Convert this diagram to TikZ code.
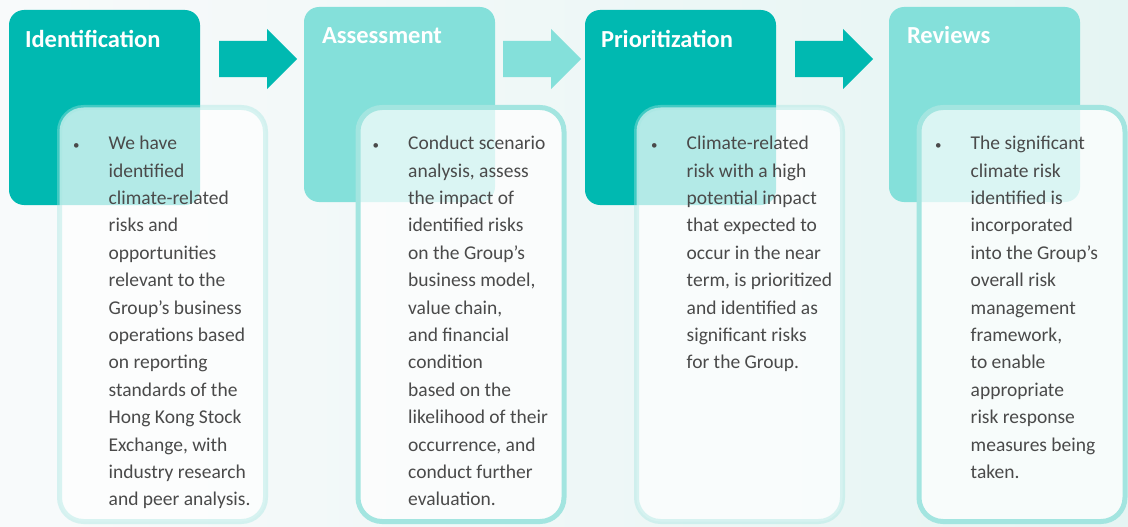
\documentclass[tikz,border=0pt]{standalone}
\usepackage{fontspec}
\setmainfont{Carlito}
\usetikzlibrary{shapes.arrows}

\definecolor{tealdark}{HTML}{00B9B1}
\definecolor{teallight}{HTML}{84E0DA}
\definecolor{tealedge}{HTML}{A3E5E0}
\definecolor{bodygray}{HTML}{4A4A4A}
\definecolor{bgleft}{HTML}{F8FAFB}
\definecolor{bgright}{HTML}{E5F5F3}

% hanging bullet in front of the first line
\newcommand{\itemdot}{\llap{{\fontsize{13}{13}\selectfont\textbullet}\hspace{29pt}}}

\begin{document}
\begin{tikzpicture}[
        x=1pt, y=-1pt,
        stepbox/.style={
            rectangle,
            rounded corners=15pt,
            minimum width=191pt,
            minimum height=195pt,
            inner sep=0pt
        },
        textbox/.style={
            rectangle,
            rounded corners=24pt,
            minimum width=206pt,
            minimum height=414pt,
            line width=5pt,
            fill=white,
            fill opacity=0.7,
            inner sep=0pt
        },
        steptitle/.style={anchor=base west, inner sep=0pt, text=white,
            font=\fontsize{24.5}{28}\selectfont\bfseries},
        steptext/.style={anchor=north west, inner sep=0pt, align=left,
            text=bodygray, font=\fontsize{19.5}{27.4}\selectfont},
        blockarrow/.style={single arrow, minimum height=78pt,
            single arrow head extend=12pt, inner xsep=0pt, inner ysep=18pt, anchor=west}
    ]

    % Background
    \shade[left color=bgleft, right color=bgright] (0,0) rectangle (1128,527);
    \useasboundingbox (0,0) rectangle (1128,527);

    % Step boxes
    \node (ident) [stepbox, fill=tealdark] at (104.5,107.5) {};
    \node (assess) [stepbox, fill=teallight] at (399.5,104.5) {};
    \node (prior) [stepbox, fill=tealdark] at (680.5,107.5) {};
    \node (review) [stepbox, fill=teallight] at (984.5,104.5) {};

    % Arrows
    \node (arrA) [blockarrow, fill=tealdark] at (219,59) {};
    \node (arrB) [blockarrow, fill=teallight] at (503,59) {};
    \node (arrC) [blockarrow, fill=tealdark] at (795,59) {};

    % Step titles
    \node (identtitle) [steptitle] at ([shift={(16,38)}]ident.north west) {Identification};
    \node (assesstitle) [steptitle] at ([shift={(18,37)}]assess.north west) {Assessment};
    \node (priortitle) [steptitle] at ([shift={(16,38)}]prior.north west) {Prioritization};
    \node (reviewtitle) [steptitle] at ([shift={(18,37)}]review.north west) {Reviews};

    % Text boxes
    \node (identbox) [textbox, draw=tealedge, draw opacity=0.4] at (162.5,314.5) {};
    \node (assessbox) [textbox, draw=tealedge] at (461,314.5) {};
    \node (priorbox) [textbox, draw=tealedge, draw opacity=0.4] at (739.5,314.5) {};
    \node (reviewbox) [textbox, draw=tealedge] at (1022,314.5) {};

    % Texts
    \node (identtext) [steptext] at ([shift={(51.5,31)}]identbox.north west) {\itemdot We have\\
        identified\\ climate-related\\ risks and\\ opportunities\\ relevant to the\\
        Group’s business\\ operations based\\ on reporting\\ standards of the\\
        Hong Kong Stock\\ Exchange, with\\ industry research\\ and peer analysis.};
    \node (assesstext) [steptext] at ([shift={(52.5,31)}]assessbox.north west) {\itemdot Conduct scenario\\
        analysis, assess\\ the impact of\\ identified risks\\ on the Group’s\\
        business model,\\ value chain,\\ and financial\\ condition\\ based on the\\
        likelihood of their\\ occurrence, and\\ conduct further\\ evaluation.};
    \node (priortext) [steptext] at ([shift={(52.5,31)}]priorbox.north west) {\itemdot Climate-related\\
        risk with a high\\ potential impact\\ that expected to\\ occur in the near\\
        term, is prioritized\\ and identified as\\ significant risks\\ for the Group.};
    \node (reviewtext) [steptext] at ([shift={(54,31)}]reviewbox.north west) {\itemdot The significant\\
        climate risk\\ identified is\\ incorporated\\ into the Group’s\\ overall risk\\
        management\\ framework,\\ to enable\\ appropriate\\ risk response\\
        measures being\\ taken.};

    \end{tikzpicture}
\end{document}
